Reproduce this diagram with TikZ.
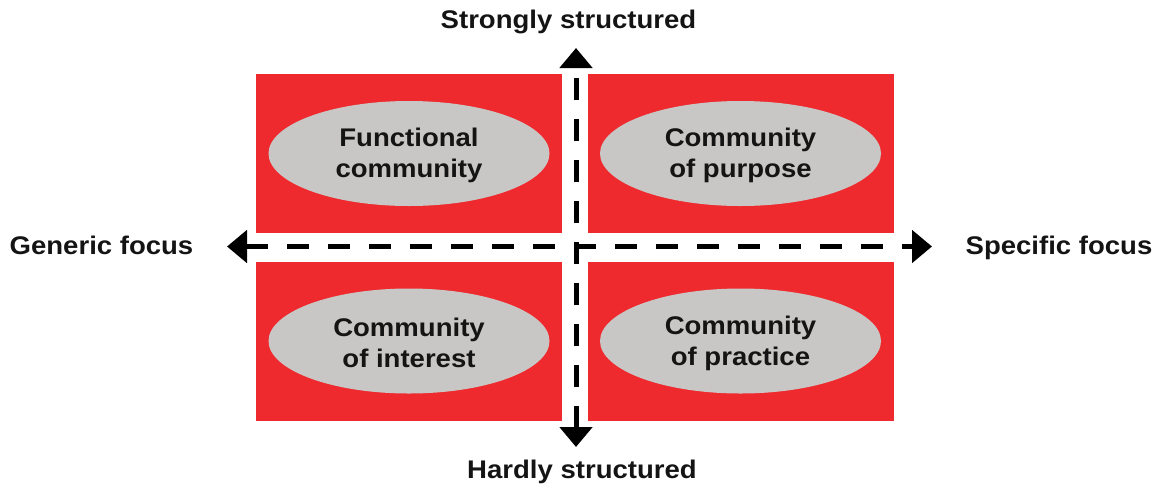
\documentclass[tikz,border=0pt]{standalone}
\usepackage{fontspec}
\setmainfont{Liberation Sans}[FakeStretch=1.08]
\usetikzlibrary{arrows.meta,shapes.geometric}
\definecolor{quadred}{HTML}{EE2A2E}
\definecolor{ovalgray}{HTML}{C9C7C5}
\definecolor{inkblack}{HTML}{141414}
\begin{document}
\begin{tikzpicture}[x=1pt,y=-1pt,
  quadrant/.style={fill=quadred,draw=none,minimum width=306pt,minimum height=159pt,inner sep=0pt},
  oval/.style={ellipse,fill=ovalgray,draw=none,minimum width=281pt,minimum height=105pt,inner sep=0pt,
    align=center,text=inkblack,font=\bfseries\fontsize{25.5}{31}\selectfont},
  ovaltext/.style={align=center,text=inkblack,inner sep=0pt,font=\bfseries\fontsize{25.5}{31}\selectfont},
  axislabel/.style={text=inkblack,font=\bfseries\fontsize{25.5}{31}\selectfont,inner sep=0pt,anchor=base},
  axis/.style={line width=5pt,draw=black,dash pattern=on 22pt off 19pt,
    {Triangle[length=20pt,width=32pt]}-{Triangle[length=20pt,width=32pt]}}]
\useasboundingbox (0,0) rectangle (1161,488);
% four quadrants
\node[quadrant] (q1) at (409,153.5) {};
\node[quadrant] (q2) at (740.5,153.5) {};
\node[quadrant] (q3) at (409,341) {};
\node[quadrant] (q4) at (740.5,341) {};
% community types
\node[oval] (fc) at (q1) {};
\node[oval] (cpu) at (q2) {};
\node[oval] (ci) at (q3) {};
\node[oval] (cpr) at (q4) {};
\node[ovaltext] (fct) at ([yshift=-2pt]fc.center) {Functional\\community};
\node[ovaltext] (cput) at ([yshift=-2pt]cpu.center) {Community\\of purpose};
\node[ovaltext] (cit) at ([yshift=-2pt]ci.center) {Community\\of interest};
\node[ovaltext] (cprt) at ([yshift=-2pt]cpr.center) {Community\\of practice};
% axis ends
\coordinate (top) at (576,48);
\coordinate (bottom) at (576,447);
\coordinate (left) at (227,246.5);
\coordinate (right) at (932,246.5);
% axes
\draw[axis] (bottom) -- (top);
\draw[axis] (left) -- (right);
% axis labels
\node[axislabel] (strong) at (568.5,28) {Strongly structured};
\node[axislabel] (hard) at (582,478) {Hardly structured};
\node[axislabel] (generic) at (101.5,254) {Generic focus};
\node[axislabel] (specific) at (1059,254) {Specific focus};
\end{tikzpicture}
\end{document}
